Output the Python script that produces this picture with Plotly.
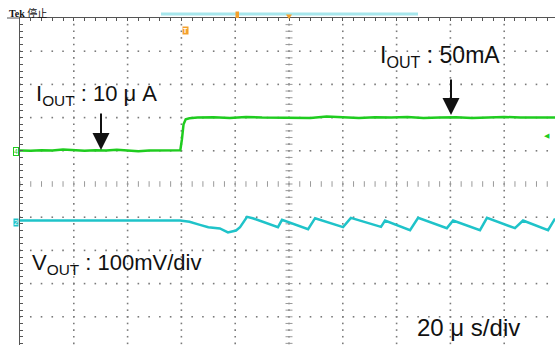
import numpy as np
import plotly.graph_objects as go

# oscilloscope capture: time in us (20 us/div), vertical in divisions
GREEN_T = [0, 4, 8, 12, 16, 20, 24, 28, 32, 36, 40, 44, 48, 52, 56, 59.6,
           60.2, 60.8, 61.6, 63, 66, 72, 78, 84, 90, 96, 102, 108, 114, 120,
           126, 132, 138, 144, 150, 156, 162, 168, 174, 180, 186, 192, 198.9]
GREEN_V = [1.01, 1.00, 1.02, 1.01, 1.04, 1.02, 1.00, 1.02, 1.01, 1.03, 1.00, 0.99, 1.01, 1.02, 1.01, 1.02,
           1.35, 1.80, 1.95, 1.98, 2.00, 2.01, 1.99, 2.02, 2.00, 2.00, 2.01, 1.99, 2.03, 2.00,
           1.99, 2.01, 2.00, 2.02, 1.99, 2.00, 2.01, 1.99, 2.00, 2.02, 2.00, 1.99, 2.00]

CYAN_T = [0, 10, 20, 30, 40, 50, 59.5, 63, 66.9, 70, 74.3, 77.3, 80.3, 81.8, 84.4, 86.5,
          95.9, 97.4, 107.1, 109.7, 120.1, 123.0, 134.2, 135.7, 145.0, 148.0, 158.7, 161.0,
          171.0, 173.6, 184.0, 187.0, 196.3, 198.9]
CYAN_V = [-1.10, -1.11, -1.10, -1.10, -1.11, -1.10, -1.10, -1.14, -1.23, -1.30, -1.34, -1.46, -1.40, -1.30, -0.99, -1.03,
          -1.30, -1.08, -1.36, -1.03, -1.30, -1.02, -1.29, -1.10, -1.39, -1.02, -1.33, -1.10,
          -1.39, -1.02, -1.33, -1.10, -1.39, -1.04]

GREEN = "#1fcc1f"
CYAN = "#1fc3c9"
ORANGE = "#f4a02c"
GRAT = "#7a7a7a"
INK = "#111111"
FONT = "Liberation Sans, Arial, sans-serif"

W, H = 555, 345
L, T = 20, 18
X_PX_DIV, Y_PX_DIV = 53.8, 33.2
CY = 184  # px of centre line


def xp(p):
    return (p - L) / (W - L)


def yp(p):
    return (H - p) / (H - T)


x_max = (W - L) / X_PX_DIV * 20
y_min = -(H - CY) / Y_PX_DIV

fig = go.Figure()

# graticule dots
gx, gy = [], []
minor_y = np.arange(-4.8, 5.0, 0.2)
for t in range(20, 200, 20):
    gx += [t] * len(minor_y)
    gy += list(minor_y)
minor_x = np.arange(0, x_max, 4)
for v in [-4, -3, -2, -1, 1, 2, 3, 4]:
    gx += list(minor_x)
    gy += [v] * len(minor_x)
fig.add_trace(go.Scatter(x=gx, y=gy, mode="markers", hoverinfo="skip",
                         marker=dict(symbol="square", size=1.6, color=GRAT)))
# centre cross ticks
fig.add_trace(go.Scatter(x=minor_x, y=[0] * len(minor_x), mode="markers", hoverinfo="skip",
                         marker=dict(symbol="line-ns", size=4, line=dict(width=1, color="#9a9a9a"))))
fig.add_trace(go.Scatter(x=[100] * len(minor_y), y=minor_y, mode="markers", hoverinfo="skip",
                         marker=dict(symbol="line-ew", size=5, line=dict(width=1, color="#9a9a9a"))))

# traces
fig.add_trace(go.Scatter(x=GREEN_T, y=GREEN_V, mode="lines", line=dict(color=GREEN, width=2.5)))
fig.add_trace(go.Scatter(x=CYAN_T, y=CYAN_V, mode="lines", line=dict(color=CYAN, width=2.5)))

fig.update_xaxes(range=[0, x_max], side="top", showline=True, linecolor="#555", linewidth=1,
                 ticks="inside", ticklen=3, tickcolor="#555", tick0=0, dtick=4,
                 showticklabels=False, showgrid=False, zeroline=False)
fig.update_yaxes(range=[y_min, 5], showline=True, linecolor="#555", linewidth=1,
                 ticks="inside", ticklen=3, tickcolor="#555", tick0=0, dtick=0.2,
                 showticklabels=False, showgrid=False, zeroline=False)

ann = []


def label(text, x, y, size):
    ann.append(dict(text=text, x=xp(x), y=yp(y), xref="paper", yref="paper", showarrow=False,
                    xanchor="left", yanchor="middle", font=dict(family=FONT, size=size, color=INK)))


def arrow(x, y0, y1):
    ann.append(dict(text="", x=xp(x), y=yp(y1), xref="paper", yref="paper", showarrow=True,
                    ax=0, ay=-(y1 - y0), arrowhead=2, arrowsize=1.7, arrowwidth=2,
                    arrowcolor=INK, standoff=0))


label("I<sub>OUT</sub> : 10 μ A", 34, 95, 22)
arrow(101, 112, 150)
label("I<sub>OUT</sub> : 50mA", 378, 57, 23)
arrow(451, 78, 115)
label("V<sub>OUT</sub> : 100mV/div", 30, 264, 22)
label("20 μ s/div", 415, 327, 24)

# scope chrome
ann.append(dict(text="<b>Tek</b> 停止", x=xp(7), y=yp(13.5), xref="paper", yref="paper",
                showarrow=False, xanchor="left", yanchor="middle",
                font=dict(family="Liberation Serif, Noto Sans CJK SC", size=10, color=INK)))
ann.append(dict(text="<b>T</b>", x=xp(182), y=yp(26), xref="paper", yref="paper", showarrow=False,
                bgcolor=ORANGE, borderpad=0, font=dict(family=FONT, size=7, color="white")))
ann.append(dict(text="4", x=xp(13), y=yp(151), xref="paper", yref="paper", showarrow=False,
                bgcolor="white", bordercolor=GREEN, borderwidth=1, borderpad=0,
                font=dict(family=FONT, size=7, color=GREEN)))
ann.append(dict(text="2", x=xp(13), y=yp(222), xref="paper", yref="paper", showarrow=False,
                bgcolor=CYAN, borderpad=0, font=dict(family=FONT, size=7, color="white")))
ann.append(dict(text="◀", x=xp(552), y=yp(136), xref="paper", yref="paper", showarrow=False,
                font=dict(family="DejaVu Sans", size=7, color=GREEN)))

shapes = [
    dict(type="line", xref="paper", yref="paper", x0=xp(7), x1=xp(L), y0=yp(T), y1=yp(T),
         line=dict(color="#555", width=1)),
    dict(type="line", xref="paper", yref="paper", x0=xp(161), x1=xp(418), y0=yp(14), y1=yp(14),
         line=dict(color="#a6e6ec", width=3)),
    dict(type="rect", xref="paper", yref="paper", x0=xp(235.5), x1=xp(239), y0=yp(18), y1=yp(11.5),
         fillcolor=ORANGE, line=dict(width=0)),
    dict(type="path", xref="paper", yref="paper",
         path=f"M{xp(286)},{yp(14.5)} L{xp(292)},{yp(14.5)} L{xp(289)},{yp(19)} Z",
         fillcolor=ORANGE, line=dict(width=0)),
]

fig.update_layout(width=W, height=H, margin=dict(l=L, r=0, t=T, b=0, pad=0),
                  paper_bgcolor="white", plot_bgcolor="white", showlegend=False,
                  annotations=ann, shapes=shapes)

# drop the browser's default 8px body margin so the page lines up with the capture
fig.write_html("out.html", config={"displayModeBar": False},
               post_script="document.body.style.margin='0';")
